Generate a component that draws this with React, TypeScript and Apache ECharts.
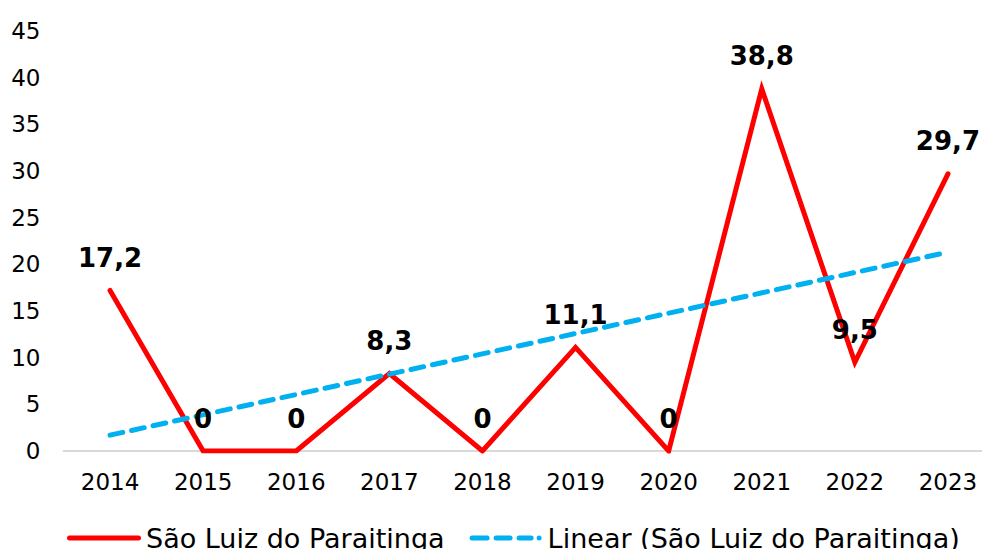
import React, { useEffect, useRef } from "react";
import * as echarts from "echarts";

const categories = ["2014", "2015", "2016", "2017", "2018", "2019", "2020", "2021", "2022", "2023"];
const seriesValues = [17.2, 0, 0, 8.3, 0, 11.1, 0, 38.8, 9.5, 29.7];
// Linear trend line at its two ends (2014 and 2023)
const trendValues = [1.7, null, null, null, null, null, null, null, null, 21.3];
const seriesName = "São Luiz do Paraitinga";
const trendName = "Linear (São Luiz do Paraitinga)";

const FONT = "DejaVu Sans";

function seg(a: number, b: number) {
  const r = 2.5;
  return `M${a + r},0 H${b - r} A${r},${r} 0 0 1 ${b - r},5 H${a + r} A${r},${r} 0 0 1 ${a + r},0 Z`;
}
const solidIcon = "path://" + seg(0, 74);
const dashIcon = "path://" + seg(0, 20) + " " + seg(24, 43) + " " + seg(47, 64) + " " + seg(67, 72);

export default function App() {
  const ref = useRef<HTMLDivElement>(null);
  useEffect(() => {
    if (!ref.current) return;
    const chart = echarts.init(ref.current, undefined, { renderer: "svg" });
    chart.setOption({
      animation: false,
      backgroundColor: "#ffffff",
      textStyle: { fontFamily: FONT },
      grid: {
        left: 63.5,
        width: 931,
        top: 31,
        height: 420,
        containLabel: false,
        outerBoundsMode: "none",
      },
      legend: {
        top: 524.5,
        left: 67,
        padding: 0,
        itemWidth: 74,
        itemHeight: 5,
        itemGap: 25,
        textStyle: { fontFamily: FONT, fontSize: 27, color: "#000" },
        data: [
          { name: seriesName, icon: solidIcon, itemStyle: { color: "#ff0000" } },
          { name: trendName, icon: dashIcon, itemStyle: { color: "#00b0f0" } },
        ],
      },
      xAxis: {
        type: "category",
        data: categories,
        boundaryGap: true,
        axisTick: { show: false },
        axisLine: { lineStyle: { color: "#d9d9d9", width: 2 } },
        axisLabel: { fontFamily: FONT, fontSize: 23, color: "#000", margin: 19 },
      },
      yAxis: {
        type: "value",
        min: 0,
        max: 45,
        interval: 5,
        splitLine: { show: false },
        axisLine: { show: false },
        axisTick: { show: false },
        axisLabel: { fontFamily: FONT, fontSize: 23, color: "#000", margin: 23 },
      },
      series: [
        {
          name: seriesName,
          type: "line",
          data: seriesValues,
          symbol: "none",
          z: 2,
          lineStyle: { color: "#ff0000", width: 5, cap: "round", join: "miter" },
          itemStyle: { color: "#ff0000" },
        },
        {
          name: trendName,
          type: "line",
          data: trendValues,
          connectNulls: true,
          symbol: "none",
          z: 3,
          lineStyle: { color: "#00b0f0", width: 5, type: [13, 9], cap: "round" },
          itemStyle: { color: "#00b0f0" },
        },
        {
          name: "data labels",
          type: "line",
          data: seriesValues,
          symbol: "circle",
          symbolSize: 1,
          showSymbol: true,
          z: 4,
          lineStyle: { width: 0, opacity: 0 },
          itemStyle: { color: "#ff0000" },
          label: {
            show: true,
            position: "top",
            distance: 19,
            fontFamily: FONT,
            fontSize: 26,
            fontWeight: "bold",
            color: "#000000",
            textBorderWidth: 0,
            formatter: (p: any) => String(p.value).replace(".", ","),
          },
          labelLayout: { hideOverlap: false },
          silent: true,
        },
      ],
    });
    return () => chart.dispose();
  }, []);
  return (
    <div
      ref={ref}
      style={{ position: "fixed", left: 0, top: 0, width: 982, height: 549, overflow: "hidden" }}
    />
  );
}
